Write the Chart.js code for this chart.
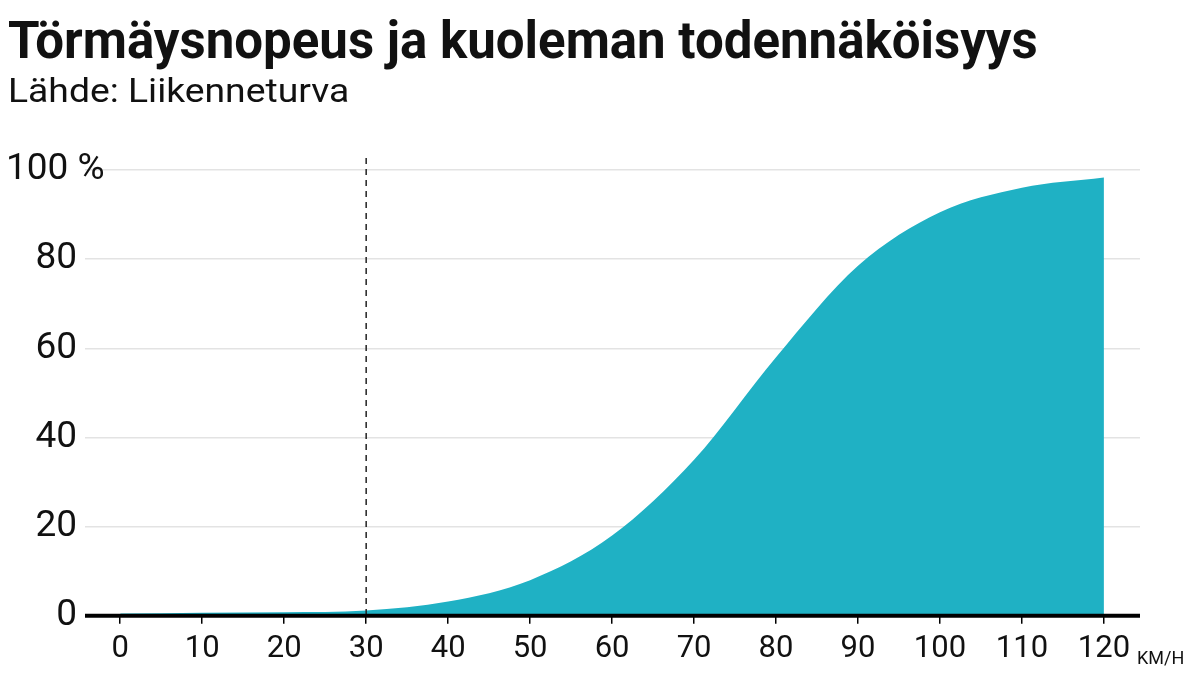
<!DOCTYPE html>
<html><head><meta charset="utf-8">
<script src="https://cdn.jsdelivr.net/npm/chart.js@4/dist/chart.umd.min.js"></script>
<style>body{margin:0;background:#fff}#wrap{width:1199px;height:675px}</style>
</head><body><div id="wrap"><canvas id="c"></canvas></div>
<script>
const speeds = [0, 10, 20, 30, 40, 50, 60, 70, 80, 90, 100, 110, 120];
const deathProb = [0.5, 0.7, 0.8, 1.2, 3.2, 8, 18, 35, 58, 78.5, 90.5, 96, 98.3];
const yTicks = [0, 20, 40, 60, 80, 100];
const xTicks = speeds;

const deco = {
  id: 'deco',
  afterDraw(chart) {
    const ctx = chart.ctx, x = chart.scales.x, y = chart.scales.y, a = chart.chartArea;
    ctx.save();
    ctx.fillStyle = '#111';
    ctx.textBaseline = 'alphabetic';
    ctx.font = 'bold 51px Roboto';
    ctx.fillText('Törmäysnopeus ja kuoleman todennäköisyys', 8, 58);
    ctx.save();
    ctx.translate(8, 102); ctx.scale(1.13, 1);
    ctx.font = '33px Roboto';
    ctx.fillText('Lähde: Liikenneturva', 0, 0);
    ctx.restore();
    // y labels
    ctx.font = '37px Roboto';
    ctx.textBaseline = 'middle';
    yTicks.forEach(v => {
      const py = y.getPixelForValue(v);
      if (v === 100) { ctx.textAlign = 'left'; ctx.fillText('100 %', 6, py); }
      else { ctx.textAlign = 'right'; ctx.fillText(String(v), 77, py); }
    });
    // dashed line at 30
    const px = x.getPixelForValue(30);
    ctx.strokeStyle = '#222'; ctx.lineWidth = 1.5; ctx.setLineDash([6, 5]);
    ctx.beginPath(); ctx.moveTo(px, 158); ctx.lineTo(px, y.getPixelForValue(0)); ctx.stroke();
    ctx.setLineDash([]);
    // baseline
    ctx.strokeStyle = '#000'; ctx.lineWidth = 4;
    const by = y.getPixelForValue(0);
    ctx.beginPath(); ctx.moveTo(a.left, by); ctx.lineTo(a.right, by); ctx.stroke();
    // unit
    ctx.font = '18px Roboto'; ctx.textAlign = 'left'; ctx.textBaseline = 'alphabetic';
    ctx.fillText('KM/H', 1137, 664);
    ctx.restore();
  }
};

new Chart(document.getElementById('c'), {
  type: 'line',
  data: {
    datasets: [{
      data: speeds.map((s, i) => ({ x: s, y: deathProb[i] })),
      fill: 'origin',
      backgroundColor: '#1fb1c4',
      borderWidth: 0,
      pointRadius: 0,
      cubicInterpolationMode: 'monotone'
    }]
  },
  options: {
    responsive: true, maintainAspectRatio: false, animation: false,
    layout: { padding: { left: 85, right: 59, top: 170, bottom: 0 } },
    plugins: { legend: { display: false }, tooltip: { enabled: false } },
    scales: {
      x: {
        type: 'linear', min: -4.3, max: 124.4,
        afterBuildTicks: s => { s.ticks = xTicks.map(v => ({ value: v })); },
        border: { display: false },
        grid: { drawOnChartArea: false, drawTicks: true, tickLength: 8, color: '#000', lineWidth: 1.5 },
        ticks: { color: '#111', font: { size: 31, family: 'Roboto' }, padding: 7, maxRotation: 0, autoSkip: false }
      },
      y: {
        min: 0, max: 100,
        afterBuildTicks: s => { s.ticks = yTicks.map(v => ({ value: v })); },
        border: { display: false },
        grid: { color: '#e3e3e3', lineWidth: 1.5, drawTicks: false },
        ticks: { display: false }
      }
    }
  },
  plugins: [deco]
});
</script></body></html>
